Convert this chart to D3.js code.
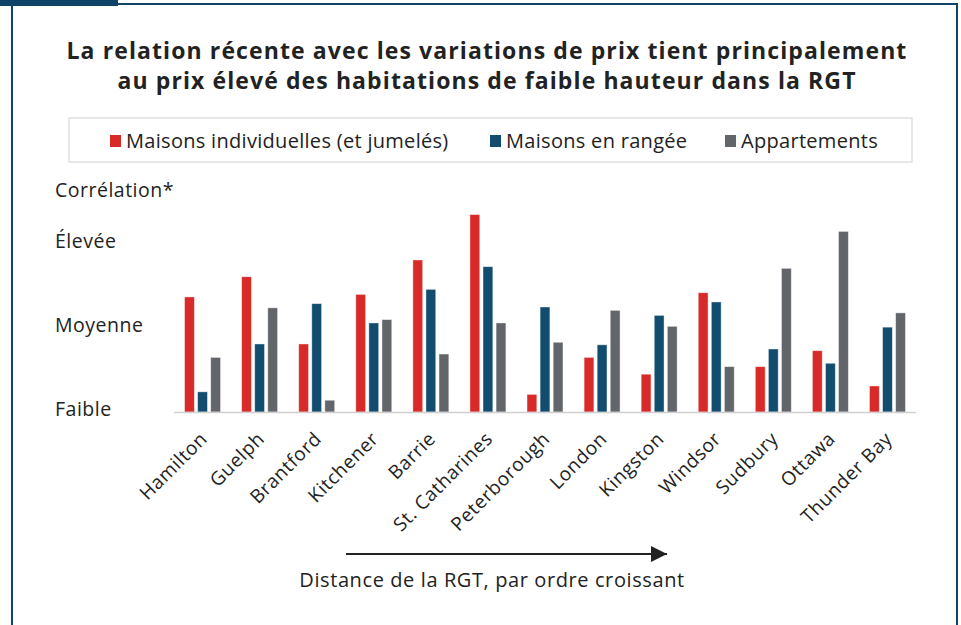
<!DOCTYPE html>
<html>
<head>
<meta charset="utf-8">
<script src="https://cdn.jsdelivr.net/npm/d3@7"></script>
<style>
  body { margin: 0; background: #fff; }
  svg text { font-family: "Open Sans", Lato, sans-serif; fill: #222; }
</style>
</head>
<body>
<div id="chart"></div>
<script>
const cities = ["Hamilton", "Guelph", "Brantford", "Kitchener", "Barrie", "St. Catharines",
  "Peterborough", "London", "Kingston", "Windsor", "Sudbury", "Ottawa", "Thunder Bay"];
const detached = [1.37, 1.61, 0.81, 1.40, 1.81, 2.35, 0.21, 0.65, 0.45, 1.42, 0.54, 0.73, 0.31];
const rows = [0.24, 0.81, 1.29, 1.06, 1.46, 1.73, 1.25, 0.80, 1.15, 1.31, 0.75, 0.58, 1.01];
const apartments = [0.65, 1.24, 0.14, 1.10, 0.69, 1.06, 0.83, 1.21, 1.02, 0.54, 1.71, 2.15, 1.18];
const seriesNames = ["Maisons individuelles (et jumelés)", "Maisons en rangée", "Appartements"];
const colors = ["#d92a2a", "#124d6f", "#626569"];
const levelLabels = ["Faible", "Moyenne", "Élevée"];
const levelValues = [0, 1, 2];

const width = 961;
const height = 625;
const margin = { top: 190, bottom: 213, left: 174, right: 45 };

const svg = d3.select("#chart")
  .append("svg")
  .attr("width", width)
  .attr("height", height);

// Frame

svg.append("rect")
  .attr("x", 12).attr("y", 4)
  .attr("width", 945).attr("height", 700)
  .attr("fill", "none")
  .attr("stroke", "#0f4468")
  .attr("stroke-width", 2);

svg.append("rect")
  .attr("x", 0).attr("y", 0)
  .attr("width", 118).attr("height", 6)
  .attr("fill", "#0f4468");

// Title

svg.append("text")
  .attr("x", 487).attr("y", 59)
  .attr("text-anchor", "middle")
  .attr("font-size", "23px")
  .attr("font-weight", "bold")
  .attr("letter-spacing", "1.1px")
  .text("La relation récente avec les variations de prix tient principalement");

svg.append("text")
  .attr("x", 487).attr("y", 89)
  .attr("text-anchor", "middle")
  .attr("font-size", "23px")
  .attr("font-weight", "bold")
  .attr("letter-spacing", "1.1px")
  .text("au prix élevé des habitations de faible hauteur dans la RGT");

// Legend

svg.append("rect")
  .attr("x", 69).attr("y", 118)
  .attr("width", 843).attr("height", 44)
  .attr("fill", "#fff")
  .attr("stroke", "#e0e0e0")
  .attr("stroke-width", 1.5);

const legendX = [110, 490, 725];
seriesNames.forEach((name, i) => {
  svg.append("rect")
    .attr("x", legendX[i]).attr("y", 135)
    .attr("width", 11).attr("height", 12)
    .attr("fill", colors[i]);
  svg.append("text")
    .attr("x", legendX[i] + 16).attr("y", 148)
    .attr("font-size", "20px")
    .attr("letter-spacing", "0.3px")
    .text(name);
});

// Scales

const x0 = d3.scaleBand()
  .domain(cities)
  .range([margin.left, width - margin.right])
  .paddingInner(0.37)
  .paddingOuter(0.185);

const x1 = d3.scaleBand()
  .domain([0, 1, 2])
  .range([0, x0.bandwidth()])
  .paddingInner(0.25);

const y = d3.scaleLinear()
  .domain([0, 2.4])
  .range([height - margin.bottom, height - margin.bottom - 2.4 * 84]);

const data = cities.map((c, i) => ({ city: c, values: [detached[i], rows[i], apartments[i]] }));

// Bars

svg.append("g")
  .selectAll("g")
  .data(data)
  .join("g")
  .attr("transform", (d) => `translate(${x0(d.city)},0)`)
  .selectAll("rect")
  .data((d) => d.values.map((v, k) => ({ k, v })))
  .join("rect")
  .attr("x", (d) => x1(d.k))
  .attr("y", (d) => y(d.v))
  .attr("width", x1.bandwidth())
  .attr("height", (d) => y(0) - y(d.v))
  .attr("fill", (d) => colors[d.k])
  .attr("stroke", "#fff")
  .attr("stroke-opacity", 0.5)
  .attr("stroke-width", 0.8);

// Axis

svg.append("line")
  .attr("x1", margin.left).attr("x2", width - margin.right)
  .attr("y1", y(0) + 0.5).attr("y2", y(0) + 0.5)
  .attr("stroke", "#d0d0d0")
  .attr("stroke-width", 1.5);

svg.append("g")
  .selectAll("text")
  .data(cities)
  .join("text")
  .attr("text-anchor", "end")
  .attr("font-size", "19px")
  .attr("letter-spacing", "0.6px")
  .attr("transform", (d) => `translate(${x0(d) + x0.bandwidth() / 2 + 6},${y(0) + 28}) rotate(-45)`)
  .text((d) => d);

svg.append("g")
  .selectAll("text")
  .data(levelValues)
  .join("text")
  .attr("x", 55)
  .attr("y", (d) => y(d) - 4)
  .attr("dominant-baseline", "central")
  .attr("font-size", "19.5px")
  .attr("letter-spacing", "0.5px")
  .text((d, i) => levelLabels[i]);

svg.append("text")
  .attr("x", 55).attr("y", 189)
  .attr("dominant-baseline", "central")
  .attr("font-size", "19.5px")
  .attr("letter-spacing", "0.5px")
  .text("Corrélation*");

// Distance arrow

svg.append("defs")
  .append("marker")
  .attr("id", "arrow")
  .attr("viewBox", "0 0 10 10")
  .attr("refX", 10).attr("refY", 5)
  .attr("markerWidth", 16).attr("markerHeight", 16)
  .attr("markerUnits", "userSpaceOnUse")
  .attr("orient", "auto")
  .append("path")
  .attr("d", "M0,0 L10,5 L0,10 Z")
  .attr("fill", "#222");

svg.append("line")
  .attr("x1", 346).attr("x2", 667)
  .attr("y1", 554).attr("y2", 554)
  .attr("stroke", "#222")
  .attr("stroke-width", 2)
  .attr("marker-end", "url(#arrow)");

svg.append("text")
  .attr("x", 492).attr("y", 587)
  .attr("text-anchor", "middle")
  .attr("font-size", "20px")
  .attr("letter-spacing", "0.6px")
  .text("Distance de la RGT, par ordre croissant");
</script>
</body>
</html>
